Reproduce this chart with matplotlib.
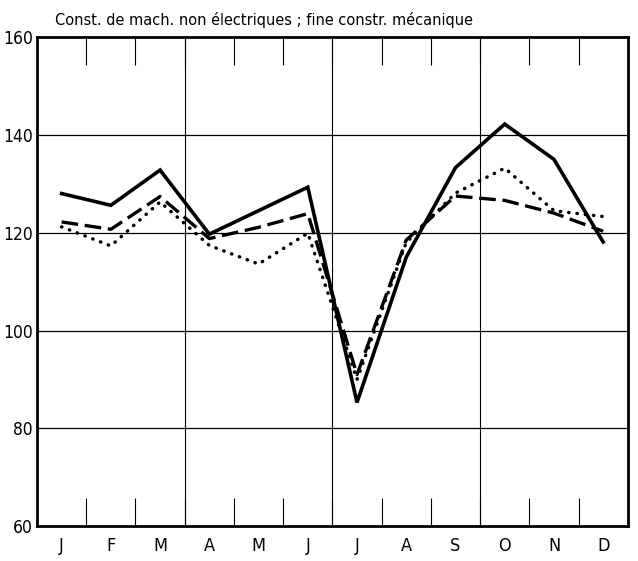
import numpy as np
import matplotlib.pyplot as plt

plt.rcParams['font.family'] = ['DejaVu Sans']
plt.rcParams['font.stretch'] = 'condensed'

# Data
months = ['J', 'F', 'M', 'A', 'M', 'J', 'J', 'A', 'S', 'O', 'N', 'D']
solid = [128, 125.6, 132.8, 119.7, 124.5, 129.3, 85.3, 115, 133.3, 142.2, 135, 118.1]
dashed = [122.2, 120.7, 127.4, 118.8, 121.1, 123.9, 91, 118.5, 127.5, 126.6, 124, 120.3]
dotted = [121.2, 117.3, 126.3, 117.4, 113.6, 119.9, 90, 118, 128.1, 133.2, 124.5, 123.3]
title = 'Const. de mach. non électriques ; fine constr. mécanique'

fig = plt.figure(figsize=(6.38, 5.61), dpi=100)
ax = fig.add_axes([0.058, 0.062, 0.926, 0.872])

x = np.arange(len(months)) + 0.5
ax.plot(x, solid, color='black', lw=2.6, solid_joinstyle='miter', zorder=4)
ax.plot(x, dashed, color='black', lw=2.4, dashes=(5, 2), zorder=4)
ax.plot(x, dotted, color='black', lw=2.5, linestyle=(0, (0.1, 2.3)),
        dash_capstyle='round', zorder=4)

ax.set_xlim(0, 12)
ax.set_ylim(60, 160)

# grid: horizontal every 20, vertical at the quarter boundaries
for v in [80, 100, 120, 140]:
    ax.axhline(v, color='black', lw=0.9, zorder=1)
for q in [3, 6, 9]:
    ax.axvline(q, color='black', lw=0.8, zorder=1)

# short ticks at month boundaries, labels at month centres
ax.set_xticks(np.arange(1, 12))
ax.set_xticklabels([])
ax.tick_params(axis='x', which='major', direction='in', length=20, width=0.8,
               top=True, bottom=True)
ax.set_xticks(x, minor=True)
ax.set_xticklabels(months, minor=True)
ax.tick_params(axis='x', which='minor', length=0, pad=8, labelsize=13)

ax.set_yticks(np.arange(60, 161, 20))
ax.tick_params(axis='y', length=0, pad=3, labelsize=12.5)

for s in ax.spines.values():
    s.set_linewidth(2.0)

fig.text(0.086, 0.955, title, fontsize=11.7, ha='left', va='baseline')

fig.savefig('out.png', dpi=100)
